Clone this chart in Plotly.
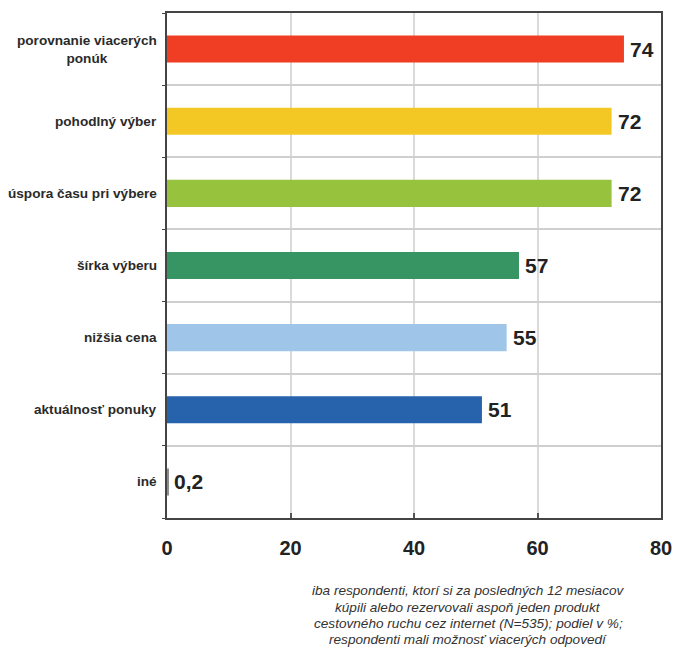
import plotly.graph_objects as go

categories = ["porovnanie viacerých<br>ponúk", "pohodlný výber", "úspora času pri výbere",
              "šírka výberu", "nižšia cena", "aktuálnosť ponuky", "iné"]
values = [74, 72, 72, 57, 55, 51, 0.2]
value_labels = ["74", "72", "72", "57", "55", "51", "0,2"]
colors = ["#EF3E23", "#F4C824", "#96C23E", "#379564", "#9FC5E8", "#2762AD", "#8C8C8C"]
x_ticks = [0, 20, 40, 60, 80]
footnote_lines = ["iba respondenti, ktorí si za posledných 12 mesiacov",
                  "kúpili alebo rezervovali aspoň jeden produkt",
                  "cestovného ruchu cez internet (N=535); podiel v %;",
                  "respondenti mali možnosť viacerých odpovedí"]

font_family = "Liberation Sans, Arial, sans-serif"
txt_color = "#222222"

fig = go.Figure(go.Bar(
    x=values, y=categories, orientation="h",
    marker=dict(color=colors, line=dict(width=0)),
    width=0.375,
    cliponaxis=False,
    hoverinfo="skip",
))

annotations = []
for c in categories:
    annotations.append(dict(
        x=-0.016, xref="paper", y=c, yref="y",
        text="<b>" + c + "</b>", showarrow=False,
        xanchor="right", yanchor="middle", align="center",
        font=dict(family=font_family, size=13.6, color="#2a2a2a"),
    ))
for c, v, lab in zip(categories, values, value_labels):
    annotations.append(dict(
        x=v, xref="x", y=c, yref="y",
        text="<b>" + lab + "</b>", showarrow=False,
        xanchor="left", yanchor="middle", xshift=4,
        font=dict(family=font_family, size=21, color=txt_color),
    ))
plot_top, plot_bottom, plot_left, plot_right = 13, 518, 167, 661
line_ys = [590, 607, 623, 639]
for line, py in zip(footnote_lines, line_ys):
    annotations.append(dict(
        x=(468 - plot_left) / (plot_right - plot_left), xref="paper",
        y=(plot_bottom - py) / (plot_bottom - plot_top), yref="paper",
        text="<i>" + line + "</i>", showarrow=False,
        xanchor="center", yanchor="middle", align="center",
        font=dict(family=font_family, size=13.6, color="#333333"),
    ))

fig.update_layout(
    width=673, height=648,
    margin=dict(l=plot_left, r=673 - plot_right, t=plot_top, b=648 - plot_bottom),
    paper_bgcolor="white", plot_bgcolor="white",
    showlegend=False,
    annotations=annotations,
    xaxis=dict(
        range=[0, 80], tickvals=x_ticks, ticktext=["<b>%d</b>" % t for t in x_ticks],
        showgrid=True, gridcolor="#DADADA", gridwidth=2,
        showline=True, linecolor="#444444", linewidth=2, mirror=True,
        ticks="inside", ticklen=5, tickcolor="#555555", tickwidth=2,
        ticklabelstandoff=11, automargin=False,
        tickfont=dict(family=font_family, size=20, color=txt_color),
        zeroline=False, fixedrange=True,
    ),
    yaxis=dict(
        categoryorder="array", categoryarray=categories[::-1],
        tickson="boundaries", showgrid=True, gridcolor="#CFCFCF", gridwidth=2,
        showline=True, linecolor="#444444", linewidth=2, mirror=True,
        ticks="outside", ticklen=3, tickcolor="#444444", tickwidth=1,
        showticklabels=False, automargin=False, fixedrange=True,
    ),
)

fig.write_html("out.html", config={"displayModeBar": False},
               post_script="document.body.style.margin='0';")
